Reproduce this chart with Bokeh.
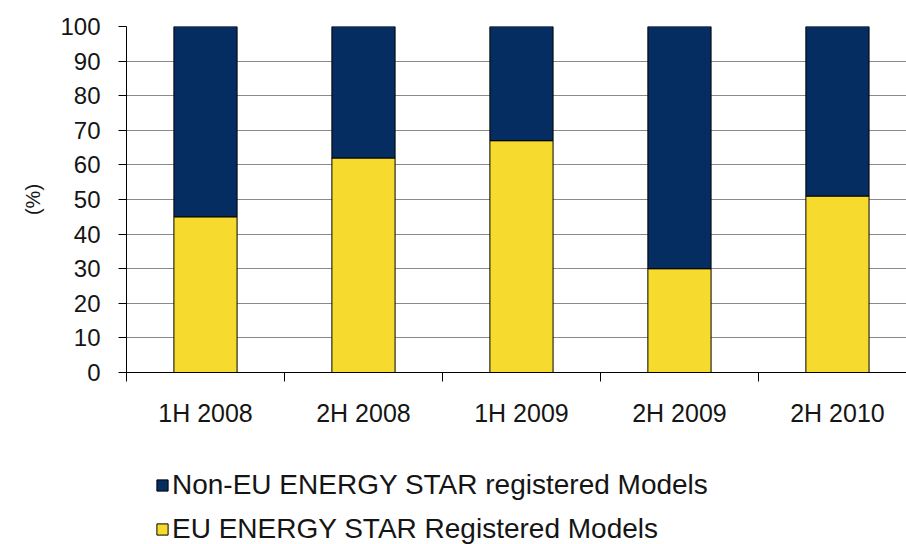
from bokeh.plotting import figure
from bokeh.layouts import column
from bokeh.models import Range1d, FixedTicker, Legend, LegendItem
from bokeh.embed import file_html
from bokeh.resources import INLINE

categories = ["1H 2008", "2H 2008", "1H 2009", "2H 2009", "2H 2010"]
eu = [45, 62, 67, 30, 51]
non_eu = [55, 38, 33, 70, 49]
y_ticks = [0, 10, 20, 30, 40, 50, 60, 70, 80, 90, 100]
labels = ["Non-EU ENERGY STAR registered Models", "EU ENERGY STAR Registered Models"]

NAVY = "#062d62"
YELLOW = "#f6da2e"
FONT = "Liberation Sans"
TXT = "#151515"

x = [i + 0.5 for i in range(len(categories))]
data = dict(x=x, eu=eu, non_eu=non_eu)

p = figure(width=906, height=436, output_backend="svg", toolbar_location=None,
           x_range=Range1d(0, 4.937), y_range=Range1d(0, 100),
           min_border_left=126, min_border_top=26, min_border_bottom=64,
           min_border_right=0)

r = p.vbar_stack(["eu", "non_eu"], x="x", width=0.4, source=data,
                 color=[YELLOW, NAVY], line_color="black", line_width=1)

p.outline_line_color = None
p.xgrid.visible = False
p.ygrid.grid_line_color = "#8a8a8a"
p.ygrid.grid_line_width = 1
p.ygrid.ticker = FixedTicker(ticks=y_ticks)

ya = p.yaxis[0]
ya.ticker = FixedTicker(ticks=y_ticks)
ya.axis_line_color = "black"
ya.major_tick_out = 8
ya.major_tick_in = 0
ya.minor_tick_out = 0
ya.major_label_text_font = FONT
ya.major_label_text_font_size = "24px"
ya.major_label_text_color = TXT
ya.major_label_standoff = 18
ya.axis_label = "(%)"
ya.axis_label_text_font = FONT
ya.axis_label_text_font_size = "20px"
ya.axis_label_text_font_style = "normal"
ya.axis_label_text_color = TXT
ya.axis_label_standoff = 13

xa = p.xaxis[0]
xa.ticker = FixedTicker(ticks=x, minor_ticks=list(range(len(categories) + 1)))
xa.major_label_overrides = {xx: c for xx, c in zip(x, categories)}
xa.major_tick_out = 0
xa.major_tick_in = 0
xa.minor_tick_out = 9
xa.minor_tick_in = 0
xa.axis_line_color = "black"
xa.major_label_text_font = FONT
xa.major_label_text_font_size = "25px"
xa.major_label_text_color = TXT
xa.major_label_standoff = 17

# legend panel below the chart (its frame is aligned with the chart's frame)
q = figure(width=906, height=108, output_backend="svg", toolbar_location=None,
           x_range=Range1d(0, 1), y_range=Range1d(0, 1),
           min_border_left=126, min_border_right=0, min_border_top=0,
           min_border_bottom=0)
q.axis.visible = False
q.grid.visible = False
q.outline_line_color = None
# swatch renderers placed below the visible range; only their legend glyphs show
s_non = q.vbar(x=[0.5], top=[-2], bottom=[-3], width=0.1, color=NAVY, line_color="black")
s_eu = q.vbar(x=[0.5], top=[-2], bottom=[-3], width=0.1, color=YELLOW, line_color="black")

legend = Legend(items=[LegendItem(label=labels[0], renderers=[s_non]),
                       LegendItem(label=labels[1], renderers=[s_eu])],
                location=(29, -1))
legend.label_text_font = FONT
legend.label_text_font_size = "28px"
legend.label_text_color = TXT
legend.glyph_width = 14
legend.glyph_height = 14
legend.label_standoff = 3
legend.spacing = 12
legend.padding = 0
legend.margin = 0
legend.border_line_color = None
legend.background_fill_alpha = 0
q.add_layout(legend)

layout = column(p, q, spacing=0)
open("out.html", "w").write(file_html(layout, INLINE))
